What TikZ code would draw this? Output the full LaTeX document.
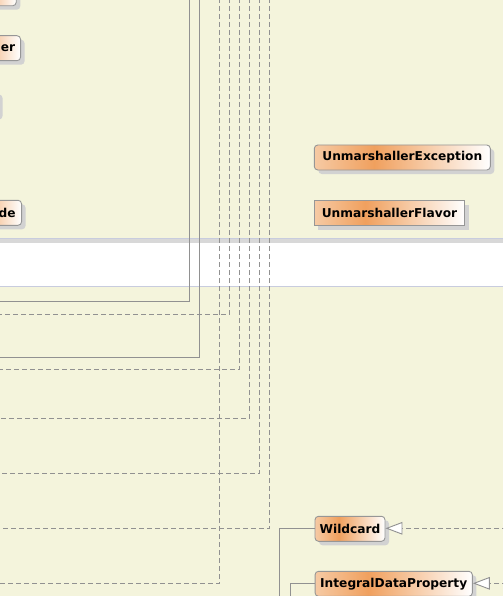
\documentclass[tikz,border=0pt]{standalone}
\usepackage{fontspec}
\newfontfamily\umlfont{DejaVu Sans}
\usetikzlibrary{arrows.meta,shadows}
\definecolor{bg}{RGB}{244,244,220}
\definecolor{umlA}{RGB}{246,202,164}
\definecolor{umlB}{RGB}{240,160,94}
\definecolor{edgec}{RGB}{150,150,150}
\definecolor{linec}{RGB}{145,145,145}
\definecolor{shadowc}{RGB}{210,210,210}
\definecolor{bandgray}{RGB}{216,216,216}
\definecolor{bandline}{RGB}{200,204,222}
\pgfdeclarehorizontalshading{umlshade}{100bp}{color(0bp)=(umlA); color(25bp)=(umlA); color(42bp)=(umlB); color(75bp)=(white); color(100bp)=(white)}
\tikzset{
  umlbox/.style={draw=edgec, line width=0.9pt, rounded corners=3.5pt, shading=umlshade,
    font=\umlfont\bfseries\fontsize{12.2}{14}\selectfont, text=black,
    inner xsep=2pt, inner ysep=0pt, minimum height=25pt,
    drop shadow={shadow xshift=4pt, shadow yshift=-4pt, fill=shadowc, opacity=1}},
  conn/.style={draw=linec, line width=1pt},
  dconn/.style={conn, dash pattern=on 5pt off 3pt},
  gen/.style={-{Triangle[length=17pt,width=12.6pt,fill=white,line width=0.9pt]}}
}
\begin{document}
\begin{tikzpicture}[x=1pt,y=-1pt]
\useasboundingbox (0,0) rectangle (503,596);
\clip (0,0) rectangle (503,596);
\fill[bg] (0,0) rectangle (503,596);
% band
\fill[bandgray] (0,238.3) rectangle (503,243.3);
\fill[white] (0,243.3) rectangle (503,286.3);
\draw[bandline, line width=0.9pt] (0,238.3) -- (503,238.3);
\draw[bandline, line width=0.9pt] (0,286.3) -- (503,286.3);
% free ends
\coordinate (t1) at (189.5,-10); \coordinate (l1) at (-10,301);
\coordinate (t2) at (199.5,-10); \coordinate (l2) at (-10,357);
\coordinate (t3) at (219.5,-10); \coordinate (l3) at (-10,583.3);
\coordinate (t4) at (229.5,-10); \coordinate (l4) at (-10,314);
\coordinate (t5) at (239.5,-10); \coordinate (l5) at (-10,369.3);
\coordinate (t6) at (249.5,-10); \coordinate (l6) at (-10,418.3);
\coordinate (t7) at (259.5,-10); \coordinate (l7) at (-10,473.3);
\coordinate (t8) at (269.5,-10); \coordinate (l8) at (-10,528.3);
\draw[conn] (t1) |- (l1);
\draw[conn] (t2) |- (l2);
\draw[dconn] (t3) |- (l3);
\draw[dconn] (t4) |- (l4);
\draw[dconn] (t5) |- (l5);
\draw[dconn] (t6) |- (l6);
\draw[dconn] (t7) |- (l7);
\draw[dconn] (t8) |- (l8);
% partial nodes on the left
\node[umlbox, anchor=north east, minimum width=60pt] (p0) at (16.7,-19.7) {};
\node[umlbox, anchor=east, text width=60pt, align=right, inner xsep=5.5pt] (p1) at (21,48.2) {er};
\node[umlbox, anchor=east, minimum width=60pt] (p2) at (-1,103) {};
\node[umlbox, anchor=east, text width=60pt, align=right, inner xsep=6pt] (p3) at (22,212.8) {de};
% right nodes
\node[umlbox, minimum width=176pt] (ue) at (402.3,157.5) {UnmarshallerException};
\node[umlbox, sharp corners, minimum width=150.4pt] (uf) at (389.5,213) {UnmarshallerFlavor};
\node[umlbox, minimum width=70pt] (wc) at (350,528.8) {Wildcard};
\node[umlbox, minimum width=157.3pt] (idp) at (393.7,583.8) {IntegralDataProperty};
% connectors at the bottom
\coordinate (wr) at (515,528.3);
\coordinate (wb) at (279.3,610);
\coordinate (ir) at (515,583.3);
\coordinate (ib) at (290,610);
\draw[dconn, gen] (wr) -- (wc.east |- wr);
\draw[conn] (wc.west |- wr) -| (wb);
\draw[dconn, gen] (ir) -- (idp.east |- ir);
\draw[conn] (idp.west |- ir) -| (ib);
\end{tikzpicture}
\end{document}
